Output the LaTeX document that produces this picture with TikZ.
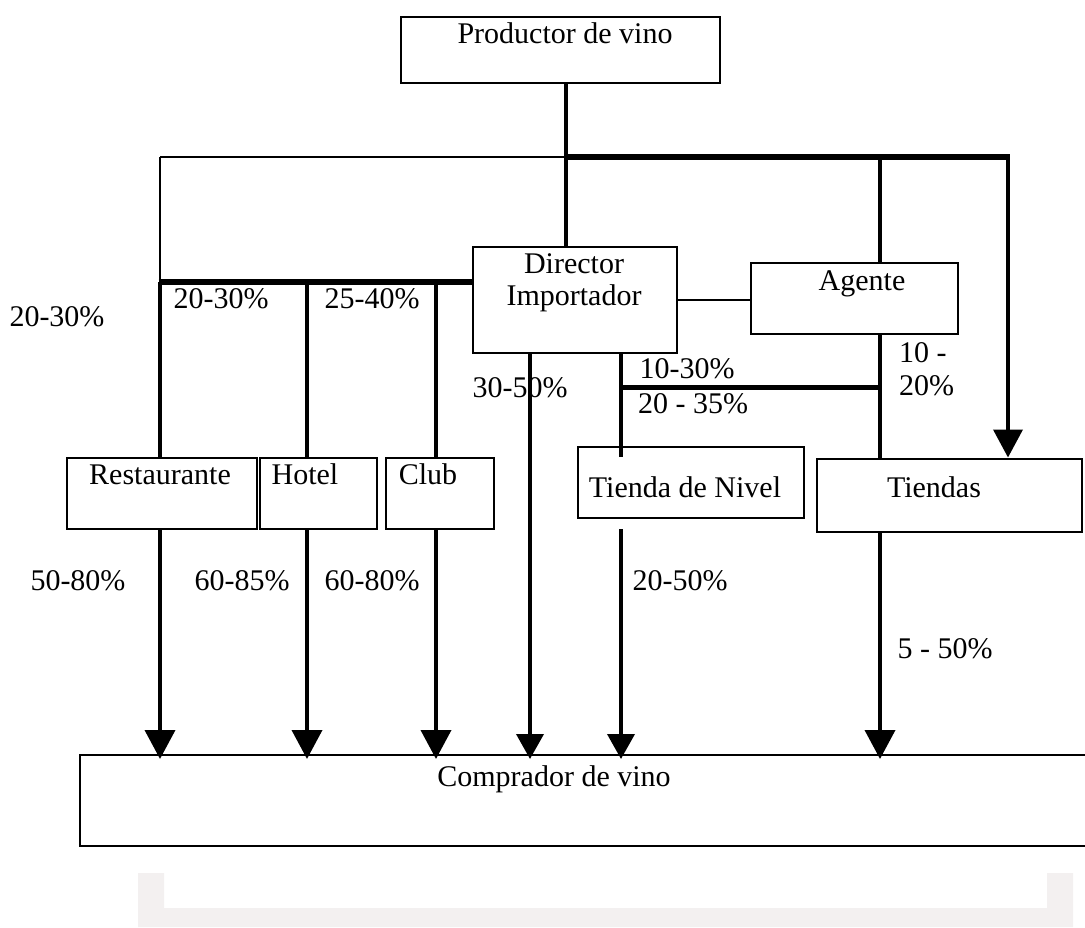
\documentclass[tikz,border=0pt]{standalone}
\usepackage{fontspec}
\setmainfont{Liberation Serif}
\usetikzlibrary{arrows.meta}
\definecolor{bracketgray}{HTML}{F3F0F0}
\begin{document}
\begin{tikzpicture}[x=1pt,y=-1pt,
  box/.style={draw=black,line width=2pt,rectangle,inner sep=0pt,fill=white},
  txt/.style={inner sep=0pt,font=\fontsize{30}{32}\selectfont,anchor=base},
  thin/.style={line width=2pt},
  vline/.style={line width=3.8pt},
  thick/.style={line width=6pt},
  bigarrow/.style={vline,-{Triangle[length=29pt,width=30pt]},shorten >=-5pt},
  smallarrow/.style={vline,-{Triangle[length=25pt,width=27pt]},shorten >=-5pt}
]
\useasboundingbox (0,0) rectangle (1085,927);
\clip (0,0) rectangle (1085,927);
\fill[white] (0,0) rectangle (1085,927);

% light gray bracket
\fill[bracketgray] (138,873) -- (164,873) -- (164,908) -- (1047,908) -- (1047,873)
  -- (1073,873) -- (1073,927) -- (138,927) -- cycle;

% boxes
\node[box,minimum width=319pt,minimum height=66pt] (prod) at (560.5,50) {};
\node[box,minimum width=204pt,minimum height=106pt] (dir) at (575,300) {};
\node[box,minimum width=207pt,minimum height=71pt] (agente) at (854.5,298.5) {};
\node[box,minimum width=190pt,minimum height=71pt] (rest) at (162,493.5) {};
\node[box,minimum width=117pt,minimum height=71pt] (hotel) at (318.5,493.5) {};
\node[box,minimum width=108pt,minimum height=71pt] (club) at (440,493.5) {};
\node[box,minimum width=226pt,minimum height=71pt] (tnivel) at (691,482.5) {};
\node[box,minimum width=265pt,minimum height=73pt] (tiendas) at (949.5,495) {};
\node[box,minimum width=1020pt,minimum height=91pt] (comp) at (590,800.5) {};

% junction coordinates
\coordinate (jc) at (566,157);
\coordinate (jl) at (160,157);
\coordinate (ja) at (880,157);
\coordinate (jr) at (1008,157);
\coordinate (hl) at (160,282);
\coordinate (hh) at (307,282);
\coordinate (hc) at (436,282);
\coordinate (dd) at (530,353);
\coordinate (dt) at (621,353);
\coordinate (tn) at (621,387);
\coordinate (ta) at (880,387);
\coordinate (tb) at (621,457);
\coordinate (tc) at (621,529);

% texts in boxes
\node[txt] (tprod) at (565,43) {Productor de vino};
\node[txt,align=center] (tdir) at (574,305) {Director\\Importador};
\node[txt] (tage) at (862,290) {Agente};
\node[txt] (trest) at (160,484) {Restaurante};
\node[txt] (thotel) at (305,484) {Hotel};
\node[txt] (tclub) at (428,484) {Club};
\node[txt] (ttn) at (685,497) {Tienda de Nivel};
\node[txt] (ttie) at (934,497) {Tiendas};
\node[txt] (tcomp) at (554,786) {Comprador de vino};

% percentage labels
\node[txt] (l1) at (57,326) {20-30\%};
\node[txt] (l2) at (221,308) {20-30\%};
\node[txt] (l3) at (372,308) {25-40\%};
\node[txt] (l4) at (520,397) {30-50\%};
\node[txt] (l5) at (687,378) {10-30\%};
\node[txt] (l6) at (693,413) {20 - 35\%};
\node[txt,anchor=base west] (l7) at (899,362) {10 -};
\node[txt,anchor=base west] (l8) at (899,395) {20\%};
\node[txt] (l9) at (78,590) {50-80\%};
\node[txt] (l10) at (242,590) {60-85\%};
\node[txt] (l11) at (372,590) {60-80\%};
\node[txt] (l12) at (680,590) {20-50\%};
\node[txt] (l13) at (945,658) {5 - 50\%};

% connectors from producer
\draw[vline] (jc |- prod.south) -- (jc |- dir.north);
\draw[thin] (jl) -- (jc);
\draw[thick] (jc) -- ([xshift=2pt]jr);
\draw[vline] (ja) -- (ja |- agente.north);
\draw[vline,-{Triangle[length=28pt,width=29pt]}] (jr) -- (jr |- tiendas.north);

% left branch
\draw[thin] (jl) -- (hl);
\draw[thick] ([xshift=-1.5pt]hl) -- (hl -| dir.west);
\draw[vline] (hl) -- (hl |- rest.north);
\draw[vline] (hh) -- (hh |- hotel.north);
\draw[vline] (hc) -- (hc |- club.north);

% director - agent
\draw[thin] (dir.east) -- (agente.west |- dir.east);

% director down
\draw[smallarrow] (dd |- dir.south) -- (dd |- comp.north);
\draw[vline] (dt |- dir.south) -- (tb);
\draw[line width=5pt] (tn) -- (ta);
\draw[vline] (ta |- agente.south) -- (ta |- tiendas.north);
\draw[smallarrow] (tc) -- (tc |- comp.north);

% arrows to buyer
\draw[bigarrow] (hl |- rest.south) -- (hl |- comp.north);
\draw[bigarrow] (hh |- hotel.south) -- (hh |- comp.north);
\draw[bigarrow] (hc |- club.south) -- (hc |- comp.north);
\draw[bigarrow] (ta |- tiendas.south) -- (ta |- comp.north);
\end{tikzpicture}
\end{document}
